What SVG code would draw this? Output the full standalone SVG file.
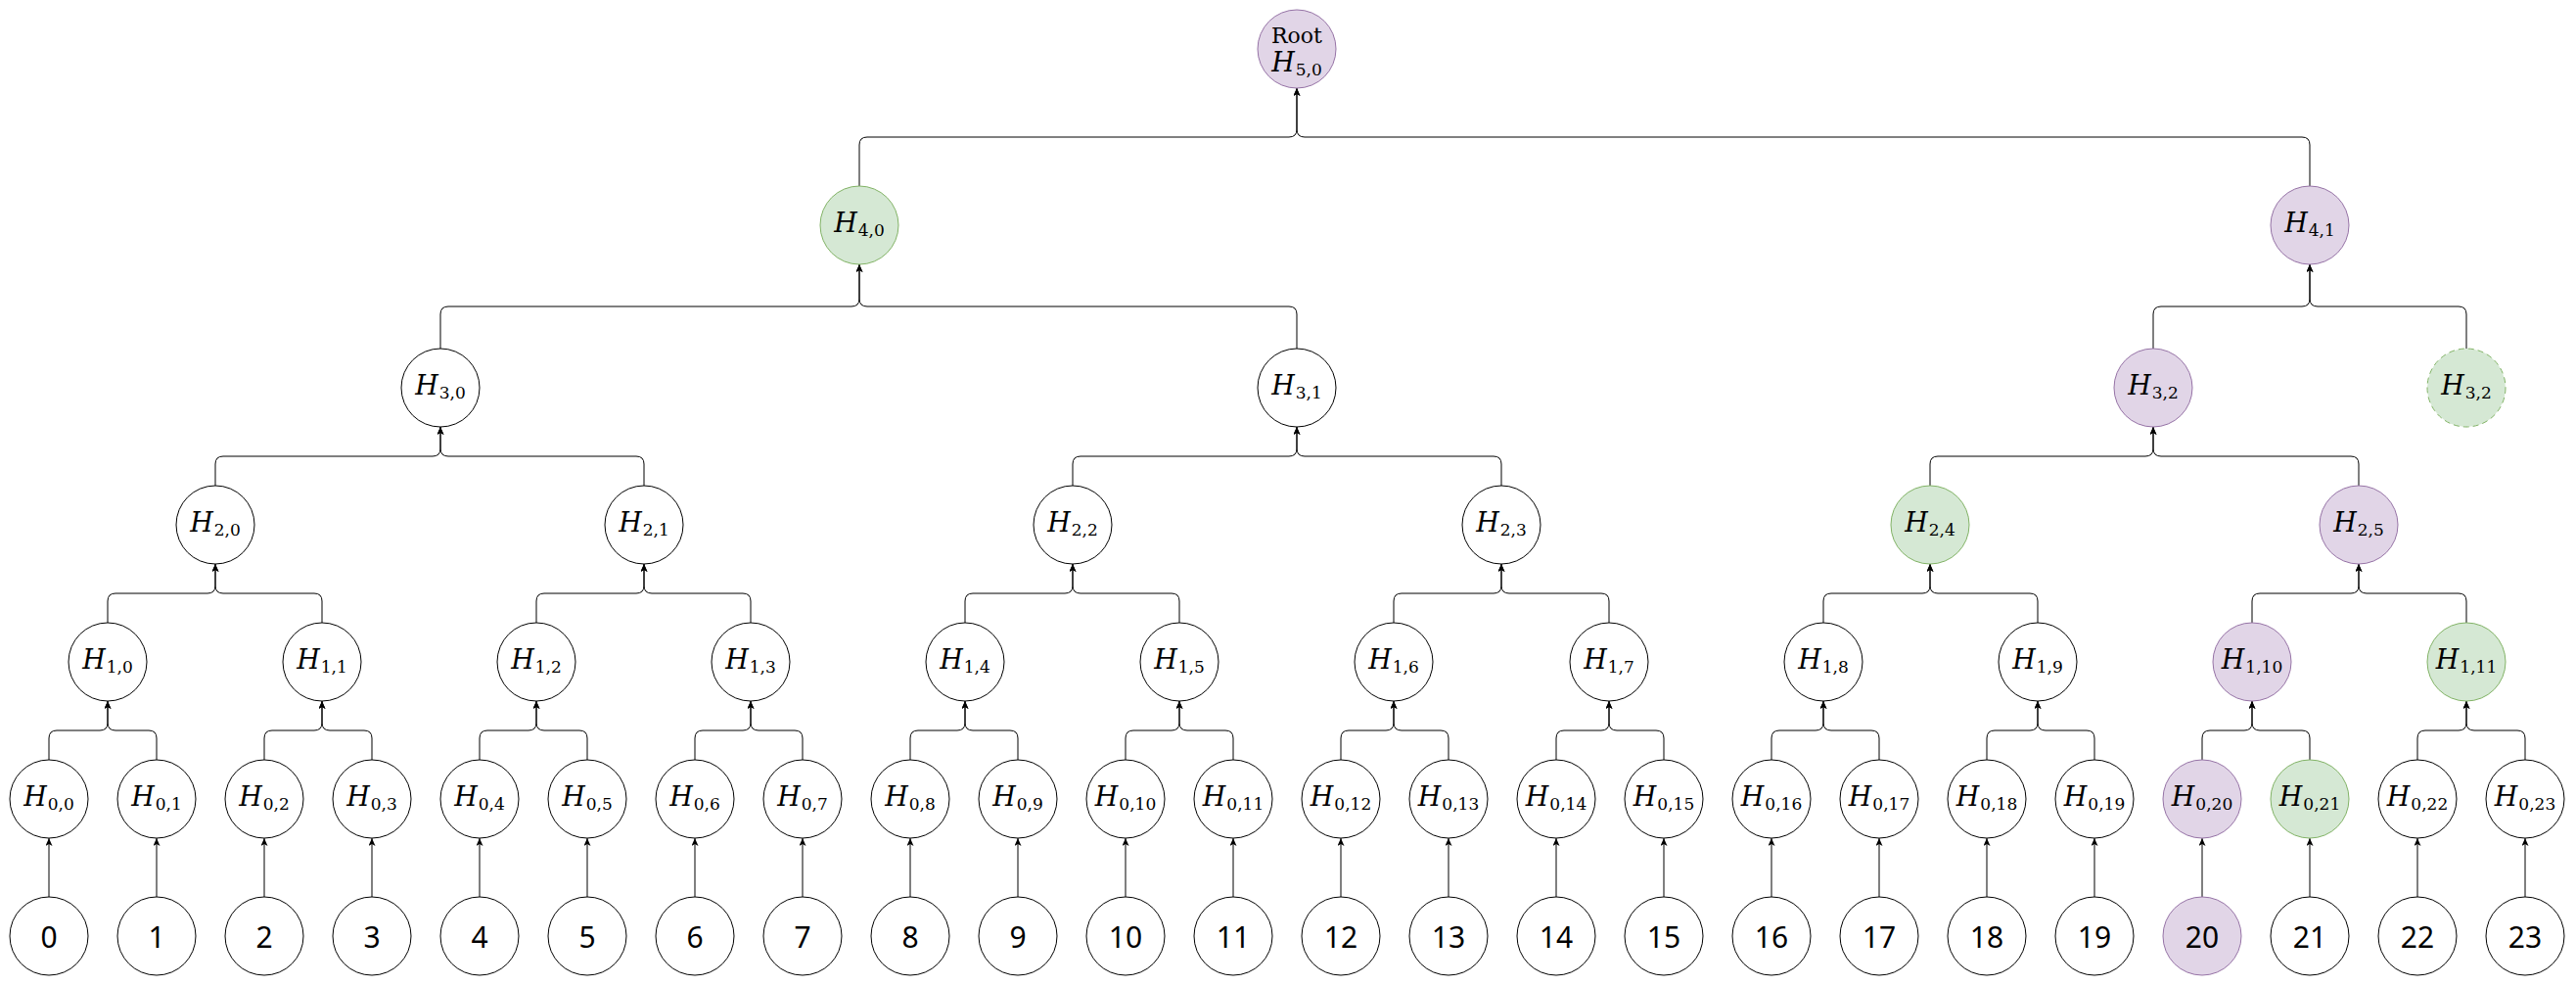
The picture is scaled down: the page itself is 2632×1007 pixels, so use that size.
<svg xmlns="http://www.w3.org/2000/svg" width="2632" height="1007" viewBox="0 0 2632 1007">
<style>
.n{fill:#ffffff;stroke:#000000;stroke-width:1}
.p{fill:#e1d5e7;stroke:#9673a6;stroke-width:1}
.g{fill:#d5e8d4;stroke:#82b366;stroke-width:1}
.gd{fill:#d5e8d4;stroke:#82b366;stroke-width:1;stroke-dasharray:6 4}
.e{fill:none;stroke:#000000;stroke-width:1;marker-end:url(#a)}
.m{font-family:"DejaVu Serif","Liberation Serif",serif;font-style:italic;font-size:27px;fill:#000;text-anchor:middle}
.s{font-style:normal;font-size:17px}
.l{font-family:"Noto Sans","Open Sans",sans-serif;font-size:30px;fill:#000;text-anchor:middle}
.r{font-family:"DejaVu Serif","Liberation Serif",serif;font-size:22px;fill:#000;text-anchor:middle}
</style>
<defs>
<marker id="a" markerUnits="userSpaceOnUse" markerWidth="8" markerHeight="7" viewBox="0 0 8 7" refX="8" refY="3.5" orient="auto"><path d="M0,0 L8,3.5 L0,7 L2,3.5 z" fill="#000"/></marker>
</defs>
<g id="connectors">
<path class="e" d="M50,916 V856"/><path class="e" d="M160,916 V856"/><path class="e" d="M270,916 V856"/><path class="e" d="M380,916 V856"/>
<path class="e" d="M490,916 V856"/><path class="e" d="M600,916 V856"/><path class="e" d="M710,916 V856"/><path class="e" d="M820,916 V856"/>
<path class="e" d="M930,916 V856"/><path class="e" d="M1040,916 V856"/><path class="e" d="M1150,916 V856"/><path class="e" d="M1260,916 V856"/>
<path class="e" d="M1370,916 V856"/><path class="e" d="M1480,916 V856"/><path class="e" d="M1590,916 V856"/><path class="e" d="M1700,916 V856"/>
<path class="e" d="M1810,916 V856"/><path class="e" d="M1920,916 V856"/><path class="e" d="M2030,916 V856"/><path class="e" d="M2140,916 V856"/>
<path class="e" d="M2250,916 V856"/><path class="e" d="M2360,916 V856"/><path class="e" d="M2470,916 V856"/><path class="e" d="M2580,916 V856"/>
<path class="e" d="M50,776 V754 Q50,746 58,746 H102 Q110,746 110,738 V716"/>
<path class="e" d="M160,776 V754 Q160,746 152,746 H118 Q110,746 110,738 V716"/>
<path class="e" d="M270,776 V754 Q270,746 278,746 H321 Q329,746 329,738 V716"/>
<path class="e" d="M380,776 V754 Q380,746 372,746 H337 Q329,746 329,738 V716"/>
<path class="e" d="M490,776 V754 Q490,746 498,746 H540 Q548,746 548,738 V716"/>
<path class="e" d="M600,776 V754 Q600,746 592,746 H556 Q548,746 548,738 V716"/>
<path class="e" d="M710,776 V754 Q710,746 718,746 H759 Q767,746 767,738 V716"/>
<path class="e" d="M820,776 V754 Q820,746 812,746 H775 Q767,746 767,738 V716"/>
<path class="e" d="M930,776 V754 Q930,746 938,746 H978 Q986,746 986,738 V716"/>
<path class="e" d="M1040,776 V754 Q1040,746 1032,746 H994 Q986,746 986,738 V716"/>
<path class="e" d="M1150,776 V754 Q1150,746 1158,746 H1197 Q1205,746 1205,738 V716"/>
<path class="e" d="M1260,776 V754 Q1260,746 1252,746 H1213 Q1205,746 1205,738 V716"/>
<path class="e" d="M1370,776 V754 Q1370,746 1378,746 H1416 Q1424,746 1424,738 V716"/>
<path class="e" d="M1480,776 V754 Q1480,746 1472,746 H1432 Q1424,746 1424,738 V716"/>
<path class="e" d="M1590,776 V754 Q1590,746 1598,746 H1636 Q1644,746 1644,738 V716"/>
<path class="e" d="M1700,776 V754 Q1700,746 1692,746 H1652 Q1644,746 1644,738 V716"/>
<path class="e" d="M1810,776 V754 Q1810,746 1818,746 H1855 Q1863,746 1863,738 V716"/>
<path class="e" d="M1920,776 V754 Q1920,746 1912,746 H1871 Q1863,746 1863,738 V716"/>
<path class="e" d="M2030,776 V754 Q2030,746 2038,746 H2074 Q2082,746 2082,738 V716"/>
<path class="e" d="M2140,776 V754 Q2140,746 2132,746 H2090 Q2082,746 2082,738 V716"/>
<path class="e" d="M2250,776 V754 Q2250,746 2258,746 H2293 Q2301,746 2301,738 V716"/>
<path class="e" d="M2360,776 V754 Q2360,746 2352,746 H2309 Q2301,746 2301,738 V716"/>
<path class="e" d="M2470,776 V754 Q2470,746 2478,746 H2512 Q2520,746 2520,738 V716"/>
<path class="e" d="M2580,776 V754 Q2580,746 2572,746 H2528 Q2520,746 2520,738 V716"/>
<path class="e" d="M110,636 V614 Q110,606 118,606 H212 Q220,606 220,598 V576"/>
<path class="e" d="M329,636 V614 Q329,606 321,606 H228 Q220,606 220,598 V576"/>
<path class="e" d="M548,636 V614 Q548,606 556,606 H650 Q658,606 658,598 V576"/>
<path class="e" d="M767,636 V614 Q767,606 759,606 H666 Q658,606 658,598 V576"/>
<path class="e" d="M986,636 V614 Q986,606 994,606 H1088 Q1096,606 1096,598 V576"/>
<path class="e" d="M1205,636 V614 Q1205,606 1197,606 H1104 Q1096,606 1096,598 V576"/>
<path class="e" d="M1424,636 V614 Q1424,606 1432,606 H1526 Q1534,606 1534,598 V576"/>
<path class="e" d="M1644,636 V614 Q1644,606 1636,606 H1542 Q1534,606 1534,598 V576"/>
<path class="e" d="M1863,636 V614 Q1863,606 1871,606 H1964 Q1972,606 1972,598 V576"/>
<path class="e" d="M2082,636 V614 Q2082,606 2074,606 H1980 Q1972,606 1972,598 V576"/>
<path class="e" d="M2301,636 V614 Q2301,606 2309,606 H2402 Q2410,606 2410,598 V576"/>
<path class="e" d="M2520,636 V614 Q2520,606 2512,606 H2418 Q2410,606 2410,598 V576"/>
<path class="e" d="M220,496 V474 Q220,466 228,466 H442 Q450,466 450,458 V436"/>
<path class="e" d="M658,496 V474 Q658,466 650,466 H458 Q450,466 450,458 V436"/>
<path class="e" d="M1096,496 V474 Q1096,466 1104,466 H1317 Q1325,466 1325,458 V436"/>
<path class="e" d="M1534,496 V474 Q1534,466 1526,466 H1333 Q1325,466 1325,458 V436"/>
<path class="e" d="M1972,496 V474 Q1972,466 1980,466 H2192 Q2200,466 2200,458 V436"/>
<path class="e" d="M2410,496 V474 Q2410,466 2402,466 H2208 Q2200,466 2200,458 V436"/>
<path class="e" d="M450,356 V321 Q450,313 458,313 H870 Q878,313 878,305 V270"/>
<path class="e" d="M1325,356 V321 Q1325,313 1317,313 H886 Q878,313 878,305 V270"/>
<path class="e" d="M2200,356 V321 Q2200,313 2208,313 H2352 Q2360,313 2360,305 V270"/>
<path class="e" d="M2520,356 V321 Q2520,313 2512,313 H2368 Q2360,313 2360,305 V270"/>
<path class="e" d="M878,190 V148 Q878,140 886,140 H1317 Q1325,140 1325,132 V90"/>
<path class="e" d="M2360,190 V148 Q2360,140 2352,140 H1333 Q1325,140 1325,132 V90"/>
</g>
<g id="root"><circle class="p" cx="1325" cy="50" r="40"/><text class="r" x="1325" y="44">Root</text><text class="m" x="1325" y="73">H<tspan class="s" dx="1" dy="4">5,0</tspan></text></g>
<g id="h4-0"><circle class="g" cx="878" cy="230" r="40"/><text class="m" x="878" y="237">H<tspan class="s" dx="1" dy="4">4,0</tspan></text></g>
<g id="h4-1"><circle class="p" cx="2360" cy="230" r="40"/><text class="m" x="2360" y="237">H<tspan class="s" dx="1" dy="4">4,1</tspan></text></g>
<g id="h3-0"><circle class="n" cx="450" cy="396" r="40"/><text class="m" x="450" y="403">H<tspan class="s" dx="1" dy="4">3,0</tspan></text></g>
<g id="h3-1"><circle class="n" cx="1325" cy="396" r="40"/><text class="m" x="1325" y="403">H<tspan class="s" dx="1" dy="4">3,1</tspan></text></g>
<g id="h3-2"><circle class="p" cx="2200" cy="396" r="40"/><text class="m" x="2200" y="403">H<tspan class="s" dx="1" dy="4">3,2</tspan></text></g>
<g id="h3-2-dup"><circle class="gd" cx="2520" cy="396" r="40"/><text class="m" x="2520" y="403">H<tspan class="s" dx="1" dy="4">3,2</tspan></text></g>
<g id="h2-0"><circle class="n" cx="220" cy="536" r="40"/><text class="m" x="220" y="543">H<tspan class="s" dx="1" dy="4">2,0</tspan></text></g>
<g id="h2-1"><circle class="n" cx="658" cy="536" r="40"/><text class="m" x="658" y="543">H<tspan class="s" dx="1" dy="4">2,1</tspan></text></g>
<g id="h2-2"><circle class="n" cx="1096" cy="536" r="40"/><text class="m" x="1096" y="543">H<tspan class="s" dx="1" dy="4">2,2</tspan></text></g>
<g id="h2-3"><circle class="n" cx="1534" cy="536" r="40"/><text class="m" x="1534" y="543">H<tspan class="s" dx="1" dy="4">2,3</tspan></text></g>
<g id="h2-4"><circle class="g" cx="1972" cy="536" r="40"/><text class="m" x="1972" y="543">H<tspan class="s" dx="1" dy="4">2,4</tspan></text></g>
<g id="h2-5"><circle class="p" cx="2410" cy="536" r="40"/><text class="m" x="2410" y="543">H<tspan class="s" dx="1" dy="4">2,5</tspan></text></g>
<g id="h1-0"><circle class="n" cx="110" cy="676" r="40"/><text class="m" x="110" y="683">H<tspan class="s" dx="1" dy="4">1,0</tspan></text></g>
<g id="h1-1"><circle class="n" cx="329" cy="676" r="40"/><text class="m" x="329" y="683">H<tspan class="s" dx="1" dy="4">1,1</tspan></text></g>
<g id="h1-2"><circle class="n" cx="548" cy="676" r="40"/><text class="m" x="548" y="683">H<tspan class="s" dx="1" dy="4">1,2</tspan></text></g>
<g id="h1-3"><circle class="n" cx="767" cy="676" r="40"/><text class="m" x="767" y="683">H<tspan class="s" dx="1" dy="4">1,3</tspan></text></g>
<g id="h1-4"><circle class="n" cx="986" cy="676" r="40"/><text class="m" x="986" y="683">H<tspan class="s" dx="1" dy="4">1,4</tspan></text></g>
<g id="h1-5"><circle class="n" cx="1205" cy="676" r="40"/><text class="m" x="1205" y="683">H<tspan class="s" dx="1" dy="4">1,5</tspan></text></g>
<g id="h1-6"><circle class="n" cx="1424" cy="676" r="40"/><text class="m" x="1424" y="683">H<tspan class="s" dx="1" dy="4">1,6</tspan></text></g>
<g id="h1-7"><circle class="n" cx="1644" cy="676" r="40"/><text class="m" x="1644" y="683">H<tspan class="s" dx="1" dy="4">1,7</tspan></text></g>
<g id="h1-8"><circle class="n" cx="1863" cy="676" r="40"/><text class="m" x="1863" y="683">H<tspan class="s" dx="1" dy="4">1,8</tspan></text></g>
<g id="h1-9"><circle class="n" cx="2082" cy="676" r="40"/><text class="m" x="2082" y="683">H<tspan class="s" dx="1" dy="4">1,9</tspan></text></g>
<g id="h1-10"><circle class="p" cx="2301" cy="676" r="40"/><text class="m" x="2301" y="683">H<tspan class="s" dx="1" dy="4">1,10</tspan></text></g>
<g id="h1-11"><circle class="g" cx="2520" cy="676" r="40"/><text class="m" x="2520" y="683">H<tspan class="s" dx="1" dy="4">1,11</tspan></text></g>
<g id="h0-0"><circle class="n" cx="50" cy="816" r="40"/><text class="m" x="50" y="823">H<tspan class="s" dx="1" dy="4">0,0</tspan></text></g>
<g id="h0-1"><circle class="n" cx="160" cy="816" r="40"/><text class="m" x="160" y="823">H<tspan class="s" dx="1" dy="4">0,1</tspan></text></g>
<g id="h0-2"><circle class="n" cx="270" cy="816" r="40"/><text class="m" x="270" y="823">H<tspan class="s" dx="1" dy="4">0,2</tspan></text></g>
<g id="h0-3"><circle class="n" cx="380" cy="816" r="40"/><text class="m" x="380" y="823">H<tspan class="s" dx="1" dy="4">0,3</tspan></text></g>
<g id="h0-4"><circle class="n" cx="490" cy="816" r="40"/><text class="m" x="490" y="823">H<tspan class="s" dx="1" dy="4">0,4</tspan></text></g>
<g id="h0-5"><circle class="n" cx="600" cy="816" r="40"/><text class="m" x="600" y="823">H<tspan class="s" dx="1" dy="4">0,5</tspan></text></g>
<g id="h0-6"><circle class="n" cx="710" cy="816" r="40"/><text class="m" x="710" y="823">H<tspan class="s" dx="1" dy="4">0,6</tspan></text></g>
<g id="h0-7"><circle class="n" cx="820" cy="816" r="40"/><text class="m" x="820" y="823">H<tspan class="s" dx="1" dy="4">0,7</tspan></text></g>
<g id="h0-8"><circle class="n" cx="930" cy="816" r="40"/><text class="m" x="930" y="823">H<tspan class="s" dx="1" dy="4">0,8</tspan></text></g>
<g id="h0-9"><circle class="n" cx="1040" cy="816" r="40"/><text class="m" x="1040" y="823">H<tspan class="s" dx="1" dy="4">0,9</tspan></text></g>
<g id="h0-10"><circle class="n" cx="1150" cy="816" r="40"/><text class="m" x="1150" y="823">H<tspan class="s" dx="1" dy="4">0,10</tspan></text></g>
<g id="h0-11"><circle class="n" cx="1260" cy="816" r="40"/><text class="m" x="1260" y="823">H<tspan class="s" dx="1" dy="4">0,11</tspan></text></g>
<g id="h0-12"><circle class="n" cx="1370" cy="816" r="40"/><text class="m" x="1370" y="823">H<tspan class="s" dx="1" dy="4">0,12</tspan></text></g>
<g id="h0-13"><circle class="n" cx="1480" cy="816" r="40"/><text class="m" x="1480" y="823">H<tspan class="s" dx="1" dy="4">0,13</tspan></text></g>
<g id="h0-14"><circle class="n" cx="1590" cy="816" r="40"/><text class="m" x="1590" y="823">H<tspan class="s" dx="1" dy="4">0,14</tspan></text></g>
<g id="h0-15"><circle class="n" cx="1700" cy="816" r="40"/><text class="m" x="1700" y="823">H<tspan class="s" dx="1" dy="4">0,15</tspan></text></g>
<g id="h0-16"><circle class="n" cx="1810" cy="816" r="40"/><text class="m" x="1810" y="823">H<tspan class="s" dx="1" dy="4">0,16</tspan></text></g>
<g id="h0-17"><circle class="n" cx="1920" cy="816" r="40"/><text class="m" x="1920" y="823">H<tspan class="s" dx="1" dy="4">0,17</tspan></text></g>
<g id="h0-18"><circle class="n" cx="2030" cy="816" r="40"/><text class="m" x="2030" y="823">H<tspan class="s" dx="1" dy="4">0,18</tspan></text></g>
<g id="h0-19"><circle class="n" cx="2140" cy="816" r="40"/><text class="m" x="2140" y="823">H<tspan class="s" dx="1" dy="4">0,19</tspan></text></g>
<g id="h0-20"><circle class="p" cx="2250" cy="816" r="40"/><text class="m" x="2250" y="823">H<tspan class="s" dx="1" dy="4">0,20</tspan></text></g>
<g id="h0-21"><circle class="g" cx="2360" cy="816" r="40"/><text class="m" x="2360" y="823">H<tspan class="s" dx="1" dy="4">0,21</tspan></text></g>
<g id="h0-22"><circle class="n" cx="2470" cy="816" r="40"/><text class="m" x="2470" y="823">H<tspan class="s" dx="1" dy="4">0,22</tspan></text></g>
<g id="h0-23"><circle class="n" cx="2580" cy="816" r="40"/><text class="m" x="2580" y="823">H<tspan class="s" dx="1" dy="4">0,23</tspan></text></g>
<g id="leaf-0"><circle class="n" cx="50" cy="956" r="40"/><text class="l" x="50" y="968">0</text></g>
<g id="leaf-1"><circle class="n" cx="160" cy="956" r="40"/><text class="l" x="160" y="968">1</text></g>
<g id="leaf-2"><circle class="n" cx="270" cy="956" r="40"/><text class="l" x="270" y="968">2</text></g>
<g id="leaf-3"><circle class="n" cx="380" cy="956" r="40"/><text class="l" x="380" y="968">3</text></g>
<g id="leaf-4"><circle class="n" cx="490" cy="956" r="40"/><text class="l" x="490" y="968">4</text></g>
<g id="leaf-5"><circle class="n" cx="600" cy="956" r="40"/><text class="l" x="600" y="968">5</text></g>
<g id="leaf-6"><circle class="n" cx="710" cy="956" r="40"/><text class="l" x="710" y="968">6</text></g>
<g id="leaf-7"><circle class="n" cx="820" cy="956" r="40"/><text class="l" x="820" y="968">7</text></g>
<g id="leaf-8"><circle class="n" cx="930" cy="956" r="40"/><text class="l" x="930" y="968">8</text></g>
<g id="leaf-9"><circle class="n" cx="1040" cy="956" r="40"/><text class="l" x="1040" y="968">9</text></g>
<g id="leaf-10"><circle class="n" cx="1150" cy="956" r="40"/><text class="l" x="1150" y="968">10</text></g>
<g id="leaf-11"><circle class="n" cx="1260" cy="956" r="40"/><text class="l" x="1260" y="968">11</text></g>
<g id="leaf-12"><circle class="n" cx="1370" cy="956" r="40"/><text class="l" x="1370" y="968">12</text></g>
<g id="leaf-13"><circle class="n" cx="1480" cy="956" r="40"/><text class="l" x="1480" y="968">13</text></g>
<g id="leaf-14"><circle class="n" cx="1590" cy="956" r="40"/><text class="l" x="1590" y="968">14</text></g>
<g id="leaf-15"><circle class="n" cx="1700" cy="956" r="40"/><text class="l" x="1700" y="968">15</text></g>
<g id="leaf-16"><circle class="n" cx="1810" cy="956" r="40"/><text class="l" x="1810" y="968">16</text></g>
<g id="leaf-17"><circle class="n" cx="1920" cy="956" r="40"/><text class="l" x="1920" y="968">17</text></g>
<g id="leaf-18"><circle class="n" cx="2030" cy="956" r="40"/><text class="l" x="2030" y="968">18</text></g>
<g id="leaf-19"><circle class="n" cx="2140" cy="956" r="40"/><text class="l" x="2140" y="968">19</text></g>
<g id="leaf-20"><circle class="p" cx="2250" cy="956" r="40"/><text class="l" x="2250" y="968">20</text></g>
<g id="leaf-21"><circle class="n" cx="2360" cy="956" r="40"/><text class="l" x="2360" y="968">21</text></g>
<g id="leaf-22"><circle class="n" cx="2470" cy="956" r="40"/><text class="l" x="2470" y="968">22</text></g>
<g id="leaf-23"><circle class="n" cx="2580" cy="956" r="40"/><text class="l" x="2580" y="968">23</text></g>
</svg>
